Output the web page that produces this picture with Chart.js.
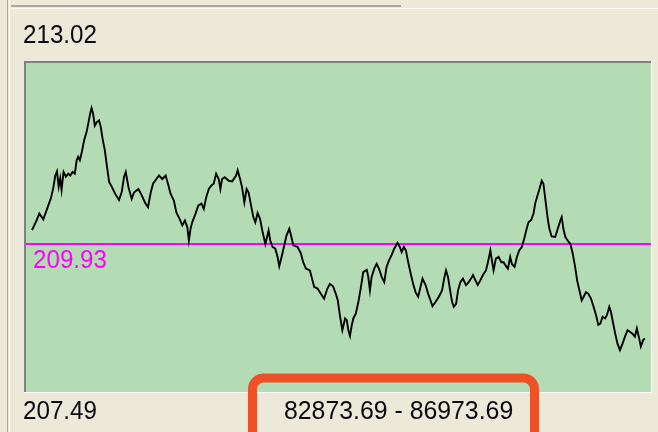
<!DOCTYPE html>
<html>
<head>
<meta charset="utf-8">
<script src="https://cdn.jsdelivr.net/npm/chart.js@4.4.1/dist/chart.umd.min.js"></script>
<style>
  html, body { margin: 0; padding: 0; background: #ECE9D8; overflow: hidden; }
  canvas { display: block; }
</style>
</head>
<body>
<canvas id="chart" width="658" height="432"></canvas>
<script>
// visible range and price scale
const rangeStart = 82873.69;
const rangeEnd = 86973.69;
const priceHigh = 213.02;
const priceLow = 207.49;
const refLevel = 209.93;

// sample positions along the range
const sampleX = [
  82913, 82928, 82944, 82961, 82977, 82987, 83005, 83020, 83037, 83052,
  83066, 83077, 83088, 83098, 83107, 83120, 83136, 83151, 83164, 83179,
  83194, 83206, 83216, 83227, 83240, 83255, 83271, 83284, 83294, 83304,
  83314, 83325, 83338, 83353, 83364, 83376, 83391, 83404, 83419, 83436,
  83458, 83484, 83502, 83517, 83528, 83546, 83567, 83582, 83611, 83633,
  83654, 83674, 83692, 83707, 83729, 83746, 83768, 83790, 83805, 83822,
  83844, 83860, 83881, 83899, 83916, 83932, 83942, 83953, 83964, 83986,
  84004, 84025, 84040, 84056, 84073, 84090, 84105, 84121, 84138, 84149,
  84160, 84177, 84204, 84226, 84252, 84262, 84278, 84291, 84306, 84321,
  84334, 84350, 84365, 84378, 84393, 84409, 84426, 84444, 84455, 84465,
  84476, 84491, 84509, 84524, 84535, 84553, 84568, 84583, 84601, 84612,
  84627, 84655, 84677, 84692, 84710, 84736, 84753, 84764, 84786, 84808,
  84829, 84851, 84867, 84888, 84906, 84919, 84934, 84949, 84967, 84978,
  84988, 84999, 85011, 85021, 85037, 85054, 85071, 85086, 85109, 85119,
  85130, 85141, 85158, 85174, 85189, 85207, 85224, 85239, 85255, 85272,
  85289, 85311, 85326, 85338, 85353, 85366, 85381, 85398, 85413, 85429,
  85446, 85462, 85475, 85495, 85512, 85527, 85540, 85560, 85582, 85603,
  85619, 85629, 85642, 85654, 85669, 85680, 85695, 85708, 85723, 85740,
  85760, 85778, 85793, 85806, 85822, 85837, 85854, 85871, 85891, 85904,
  85920, 85930, 85941, 85956, 85974, 85992, 86007, 86018, 86035, 86050,
  86061, 86079, 86094, 86109, 86126, 86142, 86155, 86170, 86188, 86203,
  86214, 86229, 86242, 86257, 86268, 86283, 86296, 86307, 86322, 86345,
  86362, 86379, 86388, 86399, 86412, 86427, 86445, 86460, 86476, 86489,
  86504, 86519, 86532, 86547, 86563, 86580, 86597, 86613, 86628, 86641,
  86656, 86672, 86685, 86700, 86711, 86726, 86739, 86754, 86770, 86787,
  86803, 86820, 86837, 86852, 86868, 86881, 86896, 86907, 86922, 86933
];

// price at each sample
const prices = [
  210.17, 210.25, 210.34, 210.45, 210.39, 210.35, 210.48, 210.59, 210.71, 210.88,
  211.10, 211.17, 210.91, 211.05, 210.85, 211.16, 211.08, 211.13, 211.10, 211.16,
  211.13, 211.36, 211.42, 211.36, 211.50, 211.70, 211.84, 212.01, 212.15, 212.25,
  212.15, 211.95, 212.01, 212.04, 211.93, 211.73, 211.53, 211.27, 210.99, 210.91,
  210.79, 210.68, 210.82, 211.08, 211.16, 210.90, 210.70, 210.81, 210.87, 210.76,
  210.64, 210.56, 210.81, 210.96, 211.04, 211.10, 211.04, 211.10, 210.96, 210.79,
  210.67, 210.47, 210.36, 210.25, 210.33, 210.22, 209.99, 210.19, 210.30, 210.45,
  210.59, 210.62, 210.53, 210.73, 210.87, 210.93, 210.96, 211.13, 211.04, 210.87,
  211.04, 211.07, 211.01, 211.00, 211.10, 211.19, 211.04, 210.90, 210.64, 210.87,
  210.81, 210.59, 210.39, 210.30, 210.46, 210.36, 210.13, 209.93, 210.05, 210.16,
  209.99, 209.88, 209.85, 209.71, 209.55, 209.74, 209.91, 210.08, 210.19, 210.08,
  209.91, 209.88, 209.77, 209.62, 209.51, 209.48, 209.31, 209.20, 209.17, 209.08,
  209.00, 209.17, 209.25, 209.21, 209.08, 208.97, 208.69, 208.46, 208.66, 208.63,
  208.46, 208.36, 208.55, 208.66, 208.74, 208.94, 209.20, 209.45, 209.49, 209.37,
  209.14, 209.37, 209.51, 209.59, 209.51, 209.37, 209.28, 209.54, 209.65, 209.74,
  209.85, 209.95, 209.88, 209.79, 209.88, 209.82, 209.62, 209.42, 209.25, 209.11,
  209.03, 209.20, 209.34, 209.23, 209.08, 208.97, 208.87, 208.94, 209.03, 209.14,
  209.37, 209.48, 209.37, 209.17, 208.94, 208.86, 208.91, 209.14, 209.28, 209.34,
  209.23, 209.28, 209.34, 209.40, 209.31, 209.23, 209.31, 209.40, 209.48, 209.62,
  209.82, 209.65, 209.48, 209.68, 209.71, 209.62, 209.62, 209.57, 209.51, 209.71,
  209.59, 209.54, 209.71, 209.82, 209.88, 210.02, 210.16, 210.30, 210.34, 210.45,
  210.62, 210.76, 210.87, 211.01, 210.96, 210.64, 210.37, 210.19, 210.06, 210.05,
  210.19, 210.33, 210.39, 210.19, 210.05, 209.99, 209.93, 209.77, 209.54, 209.31,
  209.14, 208.97, 209.03, 209.11, 209.08, 209.00, 208.86, 208.72, 208.55, 208.57,
  208.69, 208.66, 208.72, 208.86, 208.77, 208.57, 208.40, 208.23, 208.12, 208.23,
  208.35, 208.46, 208.43, 208.40, 208.35, 208.49, 208.32, 208.18, 208.29, 208.32
];

const BG = '#ECE9D8';
const PLOT_BG = '#B4DCB4';
const TEXT = '#0A0A14';
const REF_COLOR = '#FF00FF';
const MARK = '#EE5028';

function drawText(ctx, text, x, y, color, sx) {
  ctx.save();
  ctx.translate(x, y);
  ctx.scale(sx || 0.93, 1);
  ctx.font = '26px "Liberation Sans", Arial, sans-serif';
  ctx.fillStyle = color;
  ctx.textBaseline = 'alphabetic';
  ctx.fillText(text, 0, 0);
  ctx.restore();
}

// window chrome and sunken plot frame
const framePlugin = {
  id: 'frame',
  beforeDraw(chart) {
    const ctx = chart.ctx;
    ctx.save();
    ctx.fillStyle = BG;
    ctx.fillRect(0, 0, chart.width, chart.height);

    ctx.fillStyle = '#ACA899';
    ctx.fillRect(7, 0, 1, chart.height);
    ctx.fillRect(11, 5, 390, 2);
    ctx.fillStyle = '#FFFFFF';
    ctx.fillRect(9, 0, 1, chart.height);
    ctx.fillRect(11, 8, chart.width - 11, 1);

    ctx.fillStyle = PLOT_BG;
    ctx.fillRect(24, 61, 627, 332);
    ctx.fillStyle = '#808080';
    ctx.fillRect(24, 61, 627, 2);
    ctx.fillRect(24, 61, 2, 332);
    ctx.fillStyle = '#FFFFFF';
    ctx.fillRect(24, 392, 628, 1);
    ctx.fillRect(651, 61, 1, 332);
    ctx.restore();
  },
  afterDatasetsDraw(chart) {
    const ctx = chart.ctx;
    const yRef = chart.scales.y.getPixelForValue(refLevel);
    drawText(ctx, refLevel.toFixed(2), chart.chartArea.left + 7, yRef + 24, REF_COLOR);
  },
  afterDraw(chart) {
    const ctx = chart.ctx;
    drawText(ctx, priceHigh.toFixed(2), 23, 43, TEXT);
    drawText(ctx, priceLow.toFixed(2), 23, 419, TEXT);
    drawText(ctx, rangeStart.toFixed(2) + ' - ' + rangeEnd.toFixed(2), 284, 419, TEXT, 0.955);

    ctx.save();
    ctx.strokeStyle = MARK;
    ctx.lineWidth = 9;
    ctx.beginPath();
    ctx.roundRect(252.5, 378, 282, 64, 11);
    ctx.stroke();
    ctx.restore();
  }
};

const points = sampleX.map((x, i) => ({ x: x, y: prices[i] }));

new Chart(document.getElementById('chart'), {
  type: 'line',
  data: {
    datasets: [
      {
        data: points,
        borderColor: '#000000',
        borderWidth: 1.9,
        pointRadius: 0,
        tension: 0,
        fill: false
      },
      {
        data: [{ x: rangeStart, y: refLevel }, { x: rangeEnd, y: refLevel }],
        borderColor: REF_COLOR,
        borderWidth: 2,
        pointRadius: 0,
        tension: 0,
        fill: false
      }
    ]
  },
  options: {
    responsive: false,
    animation: false,
    devicePixelRatio: 1,
    layout: { padding: { left: 26, right: 7, top: 63, bottom: 45 } },
    plugins: {
      legend: { display: false },
      tooltip: { enabled: false },
      title: { display: false }
    },
    scales: {
      x: { type: 'linear', display: false, min: rangeStart, max: rangeEnd },
      y: { type: 'linear', display: false, min: priceLow, max: priceHigh }
    }
  },
  plugins: [framePlugin]
});
</script>
</body>
</html>
